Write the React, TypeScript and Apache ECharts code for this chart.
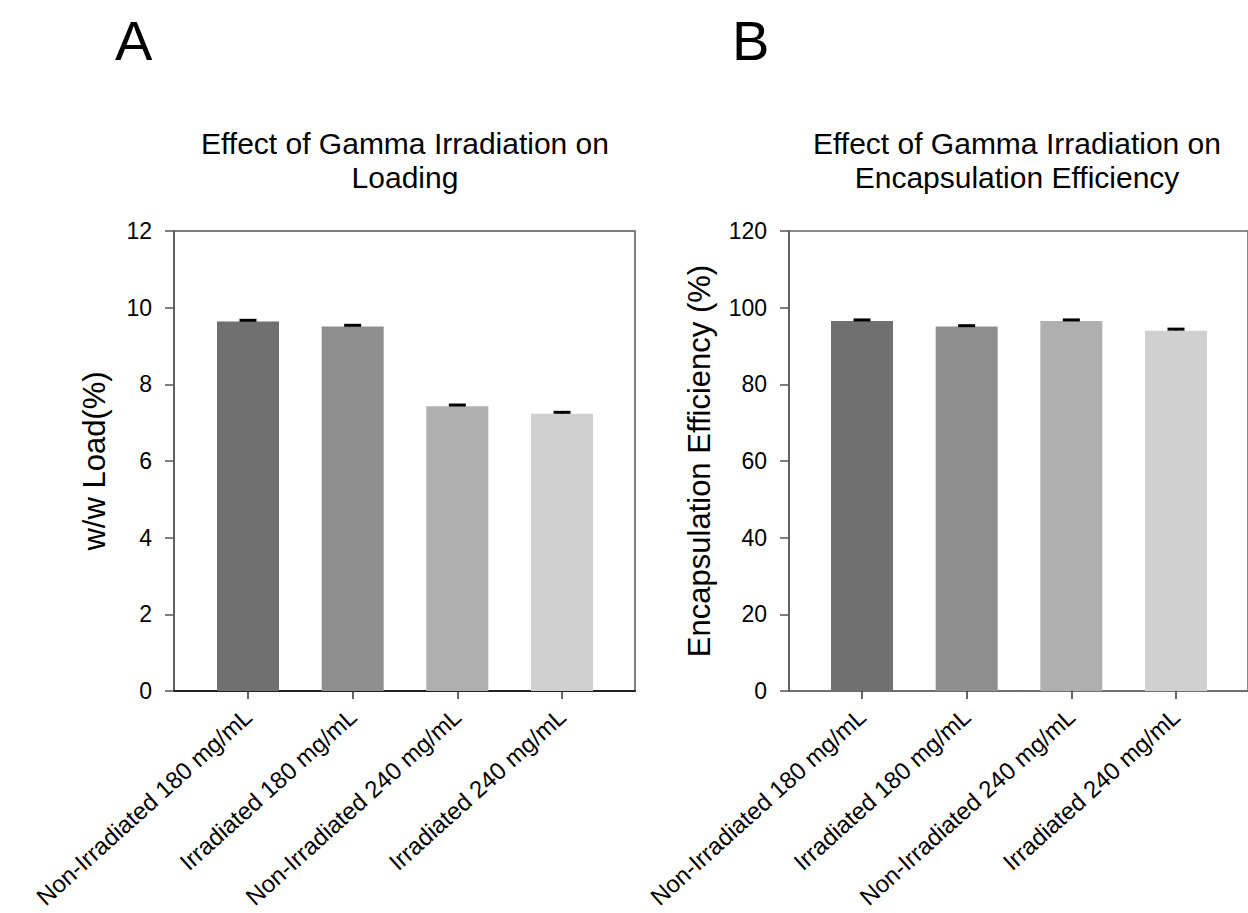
import React, { useEffect, useRef } from "react";
import * as echarts from "echarts";

const categories = [
  "Non-Irradiated 180 mg/mL",
  "Irradiated 180 mg/mL",
  "Non-Irradiated 240 mg/mL",
  "Irradiated 240 mg/mL",
];
const loadingValues = [9.64, 9.51, 7.43, 7.23];
const loadingErrors = [0.03, 0.03, 0.03, 0.04];
const eeValues = [96.5, 95.1, 96.5, 94.0];
const eeErrors = [0.3, 0.2, 0.3, 0.4];
const barColors = ["#707070", "#8e8e8e", "#afafaf", "#d0d0d0"];
const loadingTicks = { min: 0, max: 12, interval: 2 };
const eeTicks = { min: 0, max: 120, interval: 20 };

const FONT = "Liberation Sans";

function errorRender(params: any, api: any) {
  const x = api.value(0);
  const v = api.value(1);
  const e = api.value(2);
  const base = api.coord([x, v]);
  const top = api.coord([x, v + e]);
  return {
    type: "group",
    children: [
      {
        type: "line",
        shape: { x1: top[0], y1: base[1], x2: top[0], y2: top[1] },
        style: { stroke: "#000", lineWidth: 1.5 },
      },
      {
        type: "line",
        shape: { x1: top[0] - 8.5, y1: top[1], x2: top[0] + 8.5, y2: top[1] },
        style: { stroke: "#000", lineWidth: 3 },
      },
    ],
  };
}

export default function App() {
  const ref = useRef<HTMLDivElement>(null);
  useEffect(() => {
    if (!ref.current) return;
    const chart = echarts.init(ref.current, null, { renderer: "svg" });
    const top = 231;
    const height = 460;
    const frameW = 461;
    const bandW = 418.67;

    const frameX = (idx: number) => ({
      type: "value",
      gridIndex: idx,
      min: 0,
      max: 1,
      axisLine: { show: true, lineStyle: { color: idx === 0 ? "#222" : "#666", width: idx === 0 ? 2 : 1.5 } },
      axisTick: { show: false },
      axisLabel: { show: false },
      splitLine: { show: false },
    });
    const frameY = (idx: number, t: any, name: string, gap: number) => ({
      type: "value",
      gridIndex: idx,
      min: t.min,
      max: t.max,
      interval: t.interval,
      name,
      nameLocation: "middle",
      nameGap: gap,
      nameTextStyle: { fontSize: 31, color: "#000", fontFamily: FONT },
      axisLine: { show: true, lineStyle: { color: "#555", width: 1.5 } },
      axisTick: { show: true, inside: false, length: 9, lineStyle: { color: "#555", width: 1.5 } },
      axisLabel: { fontSize: 23, color: "#000", margin: 22, fontFamily: FONT },
      splitLine: { show: false },
    });
    const catX = (idx: number) => ({
      type: "category",
      gridIndex: idx,
      data: categories,
      boundaryGap: true,
      axisLine: { show: false },
      axisTick: { show: true, alignWithLabel: true, length: 8, lineStyle: { color: "#333", width: 1.5 } },
      axisLabel: { rotate: 42, fontSize: 24, color: "#000", margin: 22, fontFamily: FONT, interval: 0 },
      splitLine: { show: false },
    });
    const hiddenY = (idx: number, t: any) => ({
      type: "value",
      gridIndex: idx,
      min: t.min,
      max: t.max,
      show: false,
      splitLine: { show: false },
    });

    const barData = (vals: number[]) =>
      vals.map((v, i) => ({ value: v, itemStyle: { color: barColors[i] } }));
    const errData = (vals: number[], errs: number[]) => vals.map((v, i) => [i, v, errs[i]]);

    const titleStyle = { fontSize: 30, fontWeight: "normal", color: "#000", fontFamily: FONT, lineHeight: 34 };

    chart.setOption({
      animation: false,
      backgroundColor: "#fff",
      title: [
        { text: "A", left: 115, top: 12, padding: 0, textStyle: { fontSize: 56, fontWeight: "normal", color: "#000", fontFamily: FONT, lineHeight: 56 } },
        { text: "B", left: 732, top: 12, padding: 0, textStyle: { fontSize: 56, fontWeight: "normal", color: "#000", fontFamily: FONT, lineHeight: 56 } },
        {
          text: "Effect of Gamma Irradiation on\nLoading",
          left: 405,
          top: 126,
          padding: 0,
          textAlign: "center",
          textStyle: titleStyle,
        },
        {
          text: "Effect of Gamma Irradiation on\nEncapsulation Efficiency",
          left: 1017,
          top: 126,
          padding: 0,
          textAlign: "center",
          textStyle: titleStyle,
        },
      ],
      grid: [
        { left: 174, top, width: frameW, height, show: true, borderColor: "#555", borderWidth: 1.5, backgroundColor: "transparent" },
        { left: 248 - bandW / 8, top, width: bandW, height },
        { left: 789, top, width: frameW, height, show: true, borderColor: "#666", borderWidth: 1.5, backgroundColor: "transparent" },
        { left: 862 - bandW / 8, top, width: bandW, height },
      ],
      xAxis: [frameX(0), catX(1), frameX(2), catX(3)],
      yAxis: [
        frameY(0, loadingTicks, "w/w Load(%)", 64),
        hiddenY(1, loadingTicks),
        frameY(2, eeTicks, "Encapsulation Efficiency (%)", 74),
        hiddenY(3, eeTicks),
      ],
      series: [
        { type: "bar", xAxisIndex: 1, yAxisIndex: 1, data: barData(loadingValues), barWidth: 62 },
        { type: "custom", xAxisIndex: 1, yAxisIndex: 1, data: errData(loadingValues, loadingErrors), renderItem: errorRender, z: 5 },
        { type: "bar", xAxisIndex: 3, yAxisIndex: 3, data: barData(eeValues), barWidth: 62 },
        { type: "custom", xAxisIndex: 3, yAxisIndex: 3, data: errData(eeValues, eeErrors), renderItem: errorRender, z: 5 },
      ],
    });
    return () => chart.dispose();
  }, []);
  return (
    <div
      ref={ref}
      style={{ position: "absolute", left: 0, top: 0, width: 1248, height: 913 }}
    />
  );
}
